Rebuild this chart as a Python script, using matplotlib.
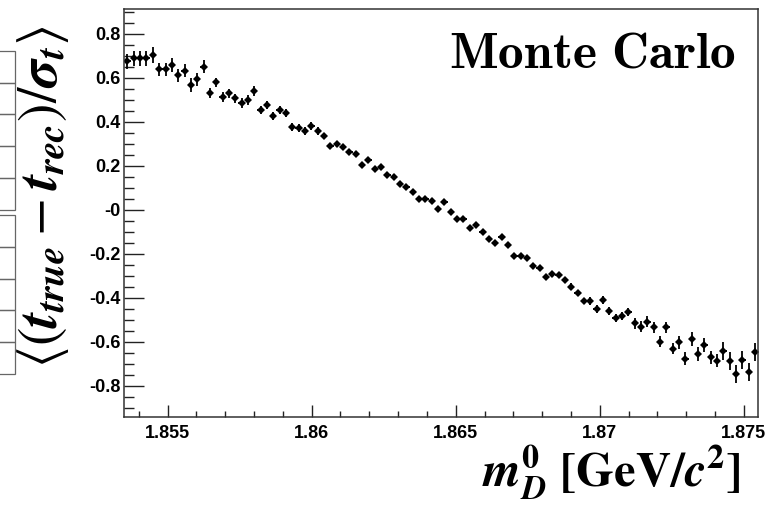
import numpy as np
import matplotlib
matplotlib.use("Agg")
import matplotlib.pyplot as plt
from matplotlib.patches import Rectangle
from matplotlib.ticker import FixedLocator, FixedFormatter, MultipleLocator

# Histogram binning of the D0 mass axis
m_lo, m_hi, n_bins = 1.8535, 1.8755, 100

# Mean pull <(t_true - t_rec)/sigma_t> per mass bin
pull_mean = [
    0.673, 0.687, 0.687, 0.687, 0.702, 0.637, 0.637, 0.657, 0.611, 0.631,
    0.566, 0.592, 0.649, 0.531, 0.578, 0.513, 0.528, 0.505, 0.485, 0.498,
    0.540, 0.452, 0.475, 0.425, 0.452, 0.437, 0.377, 0.369, 0.357, 0.381,
    0.357, 0.336, 0.290, 0.297, 0.283, 0.263, 0.254, 0.203, 0.225, 0.185,
    0.192, 0.157, 0.150, 0.117, 0.104, 0.082, 0.049, 0.047, 0.039, 0.002,
    0.036, -0.012, -0.044, -0.044, -0.084, -0.069, -0.100, -0.133, -0.150, -0.125,
    -0.160, -0.209, -0.209, -0.221, -0.255, -0.266, -0.307, -0.292, -0.296, -0.319,
    -0.349, -0.379, -0.414, -0.414, -0.452, -0.410, -0.460, -0.490, -0.481, -0.466,
    -0.516, -0.531, -0.508, -0.534, -0.599, -0.534, -0.632, -0.602, -0.677, -0.587,
    -0.655, -0.614, -0.671, -0.685, -0.641, -0.686, -0.747, -0.682, -0.738, -0.647,
]

# Statistical uncertainty on the mean pull per bin
pull_err = [
    0.035, 0.035, 0.035, 0.035, 0.035, 0.030, 0.030, 0.030, 0.030, 0.030,
    0.030, 0.030, 0.030, 0.022, 0.022, 0.022, 0.022, 0.022, 0.022, 0.022,
    0.022, 0.018, 0.018, 0.018, 0.018, 0.018, 0.018, 0.018, 0.018, 0.018,
    0.018, 0.014, 0.014, 0.014, 0.014, 0.014, 0.014, 0.014, 0.014, 0.014,
    0.014, 0.014, 0.014, 0.014, 0.014, 0.014, 0.012, 0.012, 0.012, 0.012,
    0.012, 0.012, 0.012, 0.012, 0.012, 0.012, 0.012, 0.012, 0.012, 0.012,
    0.012, 0.012, 0.012, 0.014, 0.014, 0.014, 0.014, 0.014, 0.014, 0.014,
    0.014, 0.014, 0.014, 0.018, 0.018, 0.018, 0.018, 0.018, 0.018, 0.018,
    0.025, 0.025, 0.025, 0.025, 0.025, 0.025, 0.025, 0.030, 0.030, 0.030,
    0.030, 0.030, 0.030, 0.030, 0.040, 0.040, 0.040, 0.040, 0.040, 0.040,
]

x_ticks = [1.855, 1.86, 1.865, 1.87, 1.875]
x_ticklabels = ["1.855", "1.86", "1.865", "1.87", "1.875"]
y_ticks = [-0.8, -0.6, -0.4, -0.2, 0.0, 0.2, 0.4, 0.6, 0.8]
y_ticklabels = ["-0.8", "-0.6", "-0.4", "-0.2", "-0", "0.2", "0.4", "0.6", "0.8"]

W, H = 767, 507
fig = plt.figure(figsize=(W / 100, H / 100), dpi=100)
fig.patch.set_facecolor("white")

def px_box(x0, y0, x1, y1):
    """Axes rectangle from pixel corners (top-left origin)."""
    return [x0 / W, 1 - y1 / H, (x1 - x0) / W, (y1 - y0) / H]

ax = fig.add_axes(px_box(124.3, 9.3, 758.3, 416.7))

edges = np.linspace(m_lo, m_hi, n_bins + 1)
centers = 0.5 * (edges[:-1] + edges[1:])
half_w = 0.5 * (edges[1] - edges[0])

ax.errorbar(centers, pull_mean, xerr=half_w, yerr=pull_err, fmt="D",
            color="black", ms=3.6, mew=0, elinewidth=1.3, capsize=0)

ax.set_xlim(m_lo, m_hi)
ax.set_ylim(-0.94, 0.91)

ax.xaxis.set_major_locator(FixedLocator(x_ticks))
ax.xaxis.set_major_formatter(FixedFormatter(x_ticklabels))
ax.xaxis.set_minor_locator(MultipleLocator(0.001))
ax.yaxis.set_major_locator(FixedLocator(y_ticks))
ax.yaxis.set_major_formatter(FixedFormatter(y_ticklabels))
ax.yaxis.set_minor_locator(MultipleLocator(0.05))

for lab in ax.get_xticklabels() + ax.get_yticklabels():
    lab.set_fontfamily("Liberation Sans")
    lab.set_fontweight("bold")
    lab.set_fontsize(13)

ax.tick_params(axis="both", which="both", direction="in", top=False, right=False,
               color="#222222", width=1.0)
ax.tick_params(axis="y", which="major", length=14.5, pad=3)
ax.tick_params(axis="y", which="minor", length=7.5)
ax.tick_params(axis="x", which="major", length=8.4, pad=6)
ax.tick_params(axis="x", which="minor", length=4.3)
for sp in ax.spines.values():
    sp.set_color("#333333")
    sp.set_linewidth(1.1)

# Titles and axis captions
fig.text(735 / W, 1 - 67 / H, r"$\mathbf{Monte\ Carlo}$", ha="right", va="baseline",
         fontsize=37, math_fontfamily="cm")

fig.text(740 / W, 1 - 487 / H,
         r"$\mathbfit{m}_{\mathbfit{D}}^{\mathbf{0}}\ \mathbf{[GeV/}\mathbfit{c}^{\mathbf{2}}\mathbf{]}$",
         ha="right", va="baseline", fontsize=35, math_fontfamily="stix")

fig.text(43 / W, 1 - 197 / H,
         r"$\langle(\mathbfit{t}_{\mathbfit{true}} - \mathbfit{t}_{\mathbfit{rec}})/\mathbfit{\sigma}_{\mathbfit{t}}\rangle$",
         ha="center", va="center", rotation=90, fontsize=40, math_fontfamily="stix")

# Partially visible stacked cells at the left margin
for top in (50.7, 215.0):
    for k in range(5):
        y0 = top + k * 31.8
        fig.patches.append(Rectangle((-10 / W, 1 - (y0 + 31.8) / H), 25 / W, 31.8 / H,
                                     transform=fig.transFigure, fill=False,
                                     edgecolor="#666666", linewidth=0.9))

fig.savefig("out.png", dpi=100)
